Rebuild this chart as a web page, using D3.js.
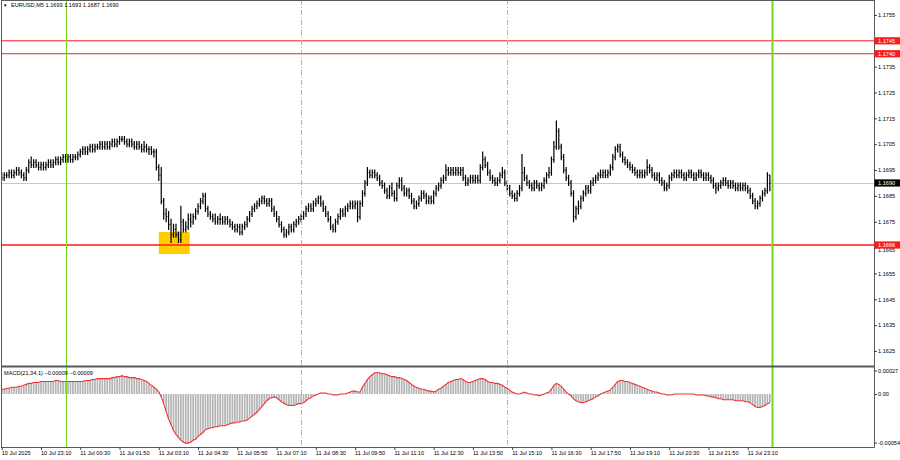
<!DOCTYPE html>
<html><head><meta charset="utf-8">
<script src="https://cdn.jsdelivr.net/npm/d3@7"></script>
<style>
html,body{margin:0;padding:0;background:#fff;}
svg{display:block;}
text{font-family:"Liberation Sans",Arial,sans-serif;font-size:5.6px;}
</style></head><body>
<svg id="c" width="900" height="460"></svg>
<script>
// ---------------- data ----------------
const symbol = "EURUSD,M5";
const firstBarTime = "10 Jul 2025 21:50";
const barMinutes = 5;
const pipBase = 1.16;          // prices below are pips above 1.1600
const open = [
93,92,93,93,94,93,94,95,94,93, 92,95,98,97,98,97,96,97,96,97,
98,97,98,99,98,99,100,99,100,99, 100,100,101,102,103,102,103,104,103,104,
104,105,104,105,104,105,106,105,106,107, 107,106,105,106,105,104,105,104,103,104,
103,103,102,102,96,93,83,78,77,74, 70,72,70,68,75,72,73,76,75,77,
79,81,83,85,80,78,77,76,75,76, 76,75,76,75,74,73,72,73,71,73,
74,76,78,80,81,82,83,84,83,82, 83,80,78,76,74,72,70,71,73,72,
74,75,76,77,78,80,81,80,82,83, 84,82,80,78,76,73,72,75,77,79,
78,80,81,82,81,82,77,82,86,90, 94,93,94,93,92,90,89,87,85,88,
86,84,89,91,88,86,87,85,83,81, 82,84,86,85,83,84,83,86,88,89,
91,92,95,94,95,94,95,94,95,92, 90,91,92,91,92,91,96,99,97,94,
92,91,90,91,93,94,90,88,86,85, 84,86,88,94,92,90,89,88,90,89,
88,89,91,93,94,99,104,110,104,100, 95,92,90,86,77,80,81,84,86,88,
87,90,91,92,93,93,94,93,94,96, 100,103,104,101,99,98,97,96,95,94,
93,94,93,94,96,95,93,92,93,91, 90,88,89,92,93,94,93,94,93,92,
93,94,93,92,93,94,93,92,93,92, 91,89,88,89,90,91,90,89,90,89,
88,89,88,89,88,87,85,83,81,82, 84,86,87,93];
const high = [
94,94,94,95,95,95,96,96,95,94, 96,99,100,99,99,98,98,98,98,99,
99,99,100,100,100,101,101,101,101,101, 101,102,103,104,104,104,105,105,105,105,
106,106,106,106,106,107,107,107,108,108, 108,107,107,107,106,106,106,105,106,105,
104,104,103,103,97,96,84,80,79,76, 74,74,71,81,76,75,78,78,78,80,
82,84,86,86,81,79,78,78,77,78, 77,77,77,76,75,74,74,74,74,75,
77,79,81,82,83,84,85,85,84,84, 84,81,79,77,75,73,72,74,74,75,
76,77,78,79,81,82,82,83,84,85, 85,83,81,79,77,74,76,78,80,80,
81,82,83,83,83,83,83,87,91,96, 95,95,95,94,93,91,90,88,89,90,
87,90,92,92,89,88,88,86,84,83, 85,87,87,86,85,85,87,89,90,92,
93,97,96,96,96,96,96,96,96,93, 92,93,93,93,93,97,102,100,98,95,
93,92,92,94,96,95,91,89,87,86, 87,89,101,96,93,91,90,91,91,90,
90,92,94,96,100,106,114,111,105,101, 96,93,91,87,81,83,85,87,89,89,
91,92,93,94,95,95,95,95,97,101, 104,105,105,102,100,99,98,97,96,95,
95,95,95,99,97,96,94,94,94,92, 91,90,93,94,95,95,95,95,94,94,
95,95,94,94,95,95,94,94,94,93, 92,90,90,91,92,92,91,91,91,90,
90,90,90,90,89,88,86,84,83,85, 87,88,94,93];
const low = [
91,91,92,92,92,92,93,93,92,91, 91,94,96,96,96,95,95,95,95,96,
96,96,97,97,97,98,98,98,98,98, 99,99,100,101,101,101,102,102,102,103,
103,103,103,103,103,104,104,104,105,106, 105,104,104,104,103,103,103,102,102,102,
101,101,100,95,91,82,76,75,72,67, 69,69,67,67,71,71,72,73,74,76,
78,80,82,79,77,76,75,74,74,74, 74,74,74,73,72,71,71,70,70,72,
73,75,77,79,80,81,82,82,81,81, 79,77,75,73,71,69,69,70,71,71,
73,74,75,76,77,79,79,79,81,82, 81,79,77,75,72,71,71,74,76,77,
77,79,80,80,80,75,76,81,85,89, 92,92,92,91,89,88,86,84,84,85,
83,83,88,87,85,85,84,82,80,80, 81,83,84,82,82,82,82,85,87,88,
90,91,93,93,93,93,93,93,91,89, 89,90,90,90,90,90,95,96,93,91,
90,89,89,90,92,89,87,85,84,83, 83,85,87,91,89,88,87,87,88,87,
87,88,90,92,93,98,103,103,99,94, 91,89,85,75,76,78,80,83,85,86,
86,89,90,91,92,92,92,92,93,95, 99,102,100,98,97,96,95,94,93,92,
92,92,92,93,94,92,91,91,90,89, 87,87,88,91,92,92,92,92,91,91,
92,92,91,91,92,92,91,91,91,90, 88,86,87,88,89,89,88,88,88,87,
87,87,87,87,86,84,82,80,80,81, 83,85,86,87];
const close = [
92,93,93,94,93,94,95,94,93,92, 95,98,97,98,97,96,97,96,97,98,
97,98,99,98,99,100,99,100,99,100, 100,101,102,103,102,103,104,103,104,104,
105,104,105,104,105,106,105,106,107,107, 106,105,106,105,104,105,104,103,104,103,
103,102,102,96,93,83,78,77,74,70, 72,70,68,75,72,73,76,75,77,79,
81,83,85,80,78,77,76,75,76,76, 75,76,75,74,73,72,73,71,73,74,
76,78,80,81,82,83,84,83,82,83, 80,78,76,74,72,70,71,73,72,74,
75,76,77,78,80,81,80,82,83,84, 82,80,78,76,73,72,75,77,79,78,
80,81,82,81,82,77,82,86,90,94, 93,94,93,92,90,89,87,85,88,86,
84,89,91,88,86,87,85,83,81,82, 84,86,85,83,84,83,86,88,89,91,
92,95,94,95,94,95,94,95,92,90, 91,92,91,92,91,96,99,97,94,92,
91,90,91,93,94,90,88,86,85,84, 86,88,94,92,90,89,88,90,89,88,
89,91,93,94,99,104,110,104,100,95, 92,90,86,77,80,81,84,86,88,87,
90,91,92,93,93,94,93,94,96,100, 103,104,101,99,98,97,96,95,94,93,
94,93,94,96,95,93,92,93,91,90, 88,89,92,93,94,93,94,93,92,93,
94,93,92,93,94,93,92,93,92,91, 89,88,89,90,91,90,89,90,89,88,
89,88,89,88,87,85,83,81,82,84, 86,87,93,90];
const macd = [   // units of 0.00001
5,5,6,6,7,7,7,8,8,9, 10,11,11,12,12,12,13,13,13,13,
13,13,14,14,13,13,13,13,13,13, 13,13,13,13,14,14,14,15,15,16,
16,16,16,16,16,17,17,18,18,19, 18,18,17,17,17,16,16,15,14,13,
11,9,7,5,2,-3,-10,-18,-26,-32, -38,-42,-45,-48,-50,-51,-51,-50,-48,-47,
-44,-42,-40,-37,-36,-35,-35,-34,-34,-33, -33,-33,-32,-31,-30,-30,-29,-29,-28,-28,
-27,-25,-23,-21,-19,-16,-13,-10,-7,-5, -4,-3,-4,-6,-8,-10,-11,-12,-12,-12,
-11,-10,-10,-9,-7,-5,-4,-2,-1,0, 1,1,1,0,0,-1,-1,-1,0,0,
0,1,2,3,3,2,2,7,11,15, 18,20,22,22,22,21,21,20,19,18,
18,17,17,16,15,14,12,10,8,7, 6,5,5,4,3,3,2,3,5,6,
8,10,12,13,14,15,15,16,15,13, 12,12,13,14,15,16,16,15,13,12,
12,11,11,10,9,7,6,4,2,1, 0,0,1,2,1,0,0,-1,-1,-2,
-1,0,1,2,5,9,11,10,8,5, 2,0,-2,-5,-7,-8,-9,-9,-8,-7,
-6,-5,-3,-2,0,1,2,3,4,7, 10,13,14,14,13,13,12,11,10,9,
8,7,6,5,4,3,2,2,1,0, 0,-1,-1,-1,0,0,0,0,0,0,
0,0,0,-1,-1,-1,-1,-2,-2,-3, -3,-4,-5,-5,-6,-6,-6,-6,-6,-7,
-7,-7,-7,-8,-8,-9,-11,-13,-14,-14, -13,-12,-10,-9];
const priceTicks = [1.1755,1.1745,1.1735,1.1725,1.1715,1.1705,1.1695,1.1685,1.1675,1.1665,1.1655,1.1645,1.1635,1.1625];
const macdTicks = [0.00027, 0, -0.00054];
const macdTickLabels = ["0.00027", "0.00", "-0.00054"];
const timeTicks = ["10 Jul 2025 21:50","10 Jul 2025 23:10","11 Jul 2025 00:30","11 Jul 2025 01:50","11 Jul 2025 03:10",
  "11 Jul 2025 04:30","11 Jul 2025 05:50","11 Jul 2025 07:10","11 Jul 2025 08:30","11 Jul 2025 09:50","11 Jul 2025 11:10",
  "11 Jul 2025 12:30","11 Jul 2025 13:50","11 Jul 2025 15:10","11 Jul 2025 16:30","11 Jul 2025 17:50","11 Jul 2025 19:10",
  "11 Jul 2025 20:30","11 Jul 2025 21:50","11 Jul 2025 23:10"];
const timeTickLabels = ["10 Jul 2025","10 Jul 23:10","11 Jul 00:30","11 Jul 01:50","11 Jul 03:10","11 Jul 04:30",
  "11 Jul 05:50","11 Jul 07:10","11 Jul 08:30","11 Jul 09:50","11 Jul 11:10","11 Jul 12:30","11 Jul 13:50",
  "11 Jul 15:10","11 Jul 16:30","11 Jul 17:50","11 Jul 19:10","11 Jul 20:30","11 Jul 21:50","11 Jul 23:10"];
const levelPrices = [1.1745, 1.1740, 1.1666];
const currentPrice = 1.1690;
const dayLines = ["11 Jul 2025 00:00", "12 Jul 2025 00:00"];
const sessionLines = ["11 Jul 2025 08:00", "11 Jul 2025 15:00"];
const zoneTimes = ["11 Jul 2025 03:10", "11 Jul 2025 04:13"];
const zonePrices = [1.16625, 1.16710];

// ---------------- chart ----------------
const parse = d3.timeParse("%d %b %Y %H:%M");
const t0 = parse(firstBarTime);
const n = close.length;
const toP = v => pipBase + v / 10000;
const bars = d3.range(n).map(i => ({
  t: d3.timeMinute.offset(t0, i * barMinutes),
  o: toP(open[i]), h: toP(high[i]), l: toP(low[i]), c: toP(close[i]), m: macd[i] / 100000
}));

const svg = d3.select("#c");
const PR = 874, MB = 366, MT = 368, BB = 447;
const step = 2.454, x0 = 1.74;
const x = d3.scaleTime().domain([t0, d3.timeMinute.offset(t0, n * barMinutes)]).range([x0, x0 + n * step]);
const y = d3.scaleLinear().domain([1.16188, 1.17604]).range([367, 1]);
const ym = d3.scaleLinear().domain([-0.00054, 0.00027]).range([446, 368]);
const crisp = v => Math.round(v) + 0.5;

svg.append("rect").attr("width", 900).attr("height", 460).attr("fill", "#fff");
const defs = svg.append("defs");
defs.append("clipPath").attr("id", "cm").append("rect").attr("x", 2).attr("y", 1).attr("width", PR - 2).attr("height", MB - 1);
defs.append("clipPath").attr("id", "cd").append("rect").attr("x", 2).attr("y", MT).attr("width", PR - 2).attr("height", BB - MT);

const gm = svg.append("g").attr("clip-path", "url(#cm)");
const gd = svg.append("g").attr("clip-path", "url(#cd)");

// yellow zone
gm.append("rect")
  .attr("x", x(parse(zoneTimes[0]))).attr("width", x(parse(zoneTimes[1])) - x(parse(zoneTimes[0])))
  .attr("y", y(zonePrices[1])).attr("height", y(zonePrices[0]) - y(zonePrices[1]))
  .attr("fill", "#ffcc00");

// current price line
gm.append("line").attr("x1", 2).attr("x2", PR).attr("y1", crisp(y(currentPrice))).attr("y2", crisp(y(currentPrice)))
  .attr("stroke", "#c8c8c8").attr("stroke-width", 1);

// bars
gm.selectAll("path.bar").data(bars).join("path").attr("class", "bar")
  .attr("d", d => {
    const cx = x(d.t);
    return `M${cx},${y(d.h) - 0.5}V${y(d.l) + 0.5}M${cx - 0.9},${y(d.o)}H${cx}M${cx},${y(d.c)}H${cx + 0.9}`;
  })
  .attr("fill", "none").attr("stroke", "#000").attr("stroke-width", 1.2);

// red levels
gm.selectAll("line.lvl").data(levelPrices).join("line").attr("class", "lvl")
  .attr("x1", 2).attr("x2", PR).attr("y1", d => y(d)).attr("y2", d => y(d))
  .attr("stroke", "#ff1a1a").attr("stroke-width", (d, i) => i === 2 ? 1.7 : 1);

// MACD histogram
gd.selectAll("line.h").data(bars).join("line").attr("class", "h")
  .attr("x1", d => x(d.t)).attr("x2", d => x(d.t))
  .attr("y1", ym(0)).attr("y2", d => ym(d.m))
  .attr("stroke", "#b4b4b4").attr("stroke-width", 1.7);
gd.append("path").datum(bars)
  .attr("d", d3.line().x(d => x(d.t)).y(d => ym(d.m)))
  .attr("fill", "none").attr("stroke", "#f03232").attr("stroke-width", 1.1);

// vertical lines
svg.selectAll("line.day").data(dayLines).join("line").attr("class", "day")
  .attr("x1", d => crisp(x(parse(d)))).attr("x2", d => crisp(x(parse(d)))).attr("y1", 0).attr("y2", BB)
  .attr("stroke", "#7ad61c").attr("stroke-width", (d, i) => i === 1 ? 2 : 1);
svg.selectAll("line.ses").data(sessionLines).join("line").attr("class", "ses")
  .attr("x1", d => crisp(x(parse(d)))).attr("x2", d => crisp(x(parse(d)))).attr("y1", 0).attr("y2", BB)
  .attr("stroke", "#8fd84a").attr("stroke-width", 1).attr("stroke-dasharray", "5,2,1,2");

// frame
const fr = svg.append("g").attr("stroke", "#5a5a5a").attr("fill", "none");
fr.append("line").attr("x1", 1.5).attr("x2", 1.5).attr("y1", 0).attr("y2", BB + 0.5);
fr.append("line").attr("x1", 1).attr("x2", PR + 0.5).attr("y1", 0.5).attr("y2", 0.5);
fr.append("line").attr("x1", PR + 0.5).attr("x2", PR + 0.5).attr("y1", 0).attr("y2", BB + 0.5);
fr.append("line").attr("x1", 1).attr("x2", PR + 0.5).attr("y1", BB + 0.5).attr("y2", BB + 0.5);
fr.append("line").attr("x1", 1).attr("x2", PR + 0.5).attr("y1", MB + 0.5).attr("y2", MB + 0.5).attr("stroke-width", 2);

// price axis
const ay = svg.append("g").attr("transform", `translate(${PR},0)`)
  .call(d3.axisRight(y).tickValues(priceTicks).tickSize(3).tickPadding(1).tickFormat(d3.format(".4f")));
const am = svg.append("g").attr("transform", `translate(${PR},0)`)
  .call(d3.axisRight(ym).tickValues(macdTicks).tickSize(3).tickPadding(1).tickFormat((d, i) => macdTickLabels[i]));
am.selectAll(".tick").filter((d, i) => i === 0).attr("transform", `translate(0,${ym(0.00027) + 3})`);
am.selectAll(".tick").filter((d, i) => i === 2).attr("transform", `translate(0,${ym(-0.00054) - 3})`);
const ax = svg.append("g").attr("transform", `translate(0,${BB})`)
  .call(d3.axisBottom(x).tickValues(timeTicks.map(parse)).tickSize(3).tickFormat((d, i) => timeTickLabels[i]));
[ay, am, ax].forEach(g => {
  g.select(".domain").remove();
  g.selectAll("line").attr("stroke", "#404040");
  g.selectAll("text").style("fill", "#000").style("font-size", "5.6px")
    .style("font-family", '"Liberation Sans", Arial, sans-serif');
});
ax.selectAll("text").attr("text-anchor", "start").attr("x", -0.5).attr("y", 4.2);
// the 1.1665 label sits partly under the 1.1666 tag, as in the original; nudge it to peek out below
ay.selectAll(".tick").filter(d => Math.abs(d - 1.1665) < 1e-7).select("text").attr("dy", "0.32em").attr("y", 2.6);

// price tags
function tag(p, bg) {
  const g = svg.append("g").attr("transform", `translate(${PR},${y(p)})`);
  g.append("rect").attr("x", 0.5).attr("y", -3.6).attr("width", 26).attr("height", 7.2).attr("fill", bg);
  g.append("text").attr("x", 4).attr("y", 2).style("fill", "#fff").style("font-size", "5.6px").text(d3.format(".4f")(p));
}
levelPrices.forEach(p => tag(p, "#ff1a1a"));
tag(currentPrice, "#000");

// header texts
const last = bars[n - 1];
const f4 = d3.format(".4f");
svg.append("text").attr("x", 3).attr("y", 7.4).style("font-size", "4.5px").style("fill", "#000").text("▼");
svg.append("text").attr("x", 11).attr("y", 7.4).style("fill", "#000")
  .text(`${symbol}  ${f4(last.o)} ${f4(last.h)} ${f4(last.l)} ${f4(last.c)}`);
svg.append("text").attr("x", 4).attr("y", 375.3).style("fill", "#000")
  .text(`MACD(21,34,1) ${d3.format(".5f")(last.m)} ${d3.format(".5f")(last.m)}`);
</script>
</body></html>
